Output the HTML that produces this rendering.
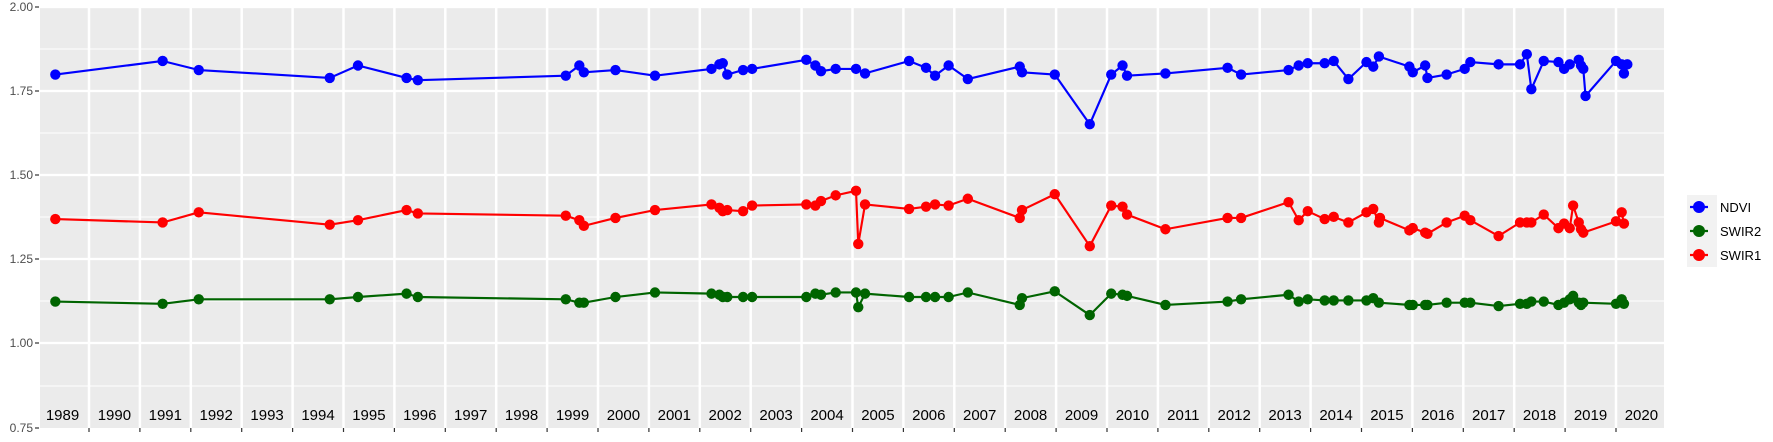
<!DOCTYPE html>
<html><head><meta charset="utf-8"><style>
html,body{margin:0;padding:0;background:#fff;}
svg{display:block;font-family:"Liberation Sans",sans-serif;}
</style></head><body>
<svg width="1773" height="442" viewBox="0 0 1773 442">
<rect x="40" y="6" width="1624" height="422" fill="#ebebeb"/>
<g stroke="#fff" stroke-width="1">
<line x1="40" x2="1664" y1="49" y2="49"/><line x1="40" x2="1664" y1="133" y2="133"/>
<line x1="40" x2="1664" y1="217" y2="217"/><line x1="40" x2="1664" y1="301" y2="301"/>
<line x1="40" x2="1664" y1="386" y2="386"/>
</g>
<g stroke="#fff" stroke-width="2.2">
<line x1="40" x2="1664" y1="7" y2="7"/><line x1="40" x2="1664" y1="91" y2="91"/>
<line x1="40" x2="1664" y1="175" y2="175"/><line x1="40" x2="1664" y1="259" y2="259"/>
<line x1="40" x2="1664" y1="343" y2="343"/>
</g>
<g id="vl" stroke="#fff" stroke-width="2.5"></g>
<g id="tk" stroke="#333" stroke-width="1.2"></g>
<g id="yl" font-size="15" fill="#000" text-anchor="middle"></g>
<g font-size="12" fill="#4d4d4d" text-anchor="end">
<text x="33" y="11">2.00</text><text x="33" y="95">1.75</text><text x="33" y="179">1.50</text>
<text x="33" y="263">1.25</text><text x="33" y="347">1.00</text><text x="33" y="432">0.75</text>
</g>
<g stroke="#333" stroke-width="1.2">
<line x1="35" x2="39" y1="7" y2="7"/><line x1="35" x2="39" y1="91" y2="91"/><line x1="35" x2="39" y1="175" y2="175"/>
<line x1="35" x2="39" y1="259" y2="259"/><line x1="35" x2="39" y1="343" y2="343"/><line x1="35" x2="39" y1="428" y2="428"/>
</g>
<g id="data" transform="scale(1.1293)"></g>
<rect x="1687" y="195" width="30" height="72" fill="#f2f2f2"/>
<line x1="1690" x2="1708" y1="207" y2="207" stroke="#00f" stroke-width="2.2"/><circle cx="1699" cy="207" r="6" fill="#00f"/>
<line x1="1690" x2="1708" y1="231" y2="231" stroke="#006400" stroke-width="2.2"/><circle cx="1699" cy="231" r="6" fill="#006400"/>
<line x1="1690" x2="1708" y1="255" y2="255" stroke="#f00" stroke-width="2.2"/><circle cx="1699" cy="255" r="6" fill="#f00"/>
<g font-size="13" fill="#000"><text x="1720" y="212">NDVI</text><text x="1720" y="236">SWIR2</text><text x="1720" y="260">SWIR1</text></g>
</svg>
<script>
const NS="http://www.w3.org/2000/svg";
function el(p,t,a){const e=document.createElementNS(NS,t);for(const k in a)e.setAttribute(k,a[k]);p.appendChild(e);return e;}
const vl=document.getElementById('vl'),tk=document.getElementById('tk'),yl=document.getElementById('yl');
for(let y=1990;y<=2020;y++){const x=89+(y-1990)*50.9;el(vl,'line',{x1:x,x2:x,y1:6,y2:428});el(tk,'line',{x1:x,x2:x,y1:428,y2:432});}
for(let y=1989;y<=2020;y++){const x=89+(y-1990)*50.9+25.4-(y==1989?1:0);const t=el(yl,'text',{x:x,y:420});t.textContent=y;}
const N=[[49,66],[144,54],[176,62],[292,69],[317,58],[360,69],[370,71],[501,67],[513,58],[517,64],[545,62],[580,67],[630,61],[637,57],[640,56],[644,66],[658,62],[666,61],[714,53],[722,58],[727,63],[740,61],[758,61],[766,65],[805,54],[820,60],[828,67],[840,58],[857,70],[903,59],[905,64],[934,66],[965,110],[984,66],[994,58],[998,67],[1032,65],[1087,60],[1099,66],[1141,62],[1150,58],[1158,56],[1173,56],[1181,54],[1194,70],[1210,55],[1216,59],[1221,50],[1248,59],[1251,64],[1262,58],[1264,69],[1281,66],[1297,61],[1302,55],[1327,57],[1346,57],[1352,48],[1356,79],[1367,54],[1380,55],[1385,61],[1390,57],[1398,53],[1400,58],[1402,61],[1404,85],[1431,54],[1436,57],[1438,65],[1441,57]];
const R=[[49,194],[144,197],[176,188],[292,199],[317,195],[360,186],[370,189],[501,191],[513,195],[517,200],[545,193],[580,186],[630,181],[637,184],[640,187],[644,186],[658,187],[666,182],[714,181],[722,182],[727,178],[740,173],[758,169],[760,216],[766,181],[805,185],[820,183],[828,181],[840,182],[857,176],[903,193],[905,186],[934,172],[965,218],[984,182],[994,183],[998,190],[1032,203],[1087,193],[1099,193],[1141,179],[1150,195],[1158,187],[1173,194],[1181,192],[1194,197],[1210,188],[1216,185],[1221,197],[1222,193],[1248,204],[1251,202],[1262,206],[1264,207],[1281,197],[1297,191],[1302,195],[1327,209],[1346,197],[1352,197],[1356,197],[1367,190],[1380,202],[1385,198],[1390,202],[1393,182],[1398,197],[1400,203],[1402,206],[1431,196],[1436,188],[1438,198]];
const G=[[49,267],[144,269],[176,265],[292,265],[317,263],[360,260],[370,263],[501,265],[513,268],[517,268],[545,263],[580,259],[630,260],[637,261],[640,263],[644,263],[658,263],[666,263],[714,263],[722,260],[727,261],[740,259],[758,259],[760,272],[766,260],[805,263],[820,263],[828,263],[840,263],[857,259],[903,270],[905,264],[934,258],[965,279],[984,260],[994,261],[998,262],[1032,270],[1087,267],[1099,265],[1141,261],[1150,267],[1158,265],[1173,266],[1181,266],[1194,266],[1210,266],[1216,264],[1221,268],[1248,270],[1251,270],[1262,270],[1264,270],[1281,268],[1297,268],[1302,268],[1327,271],[1346,269],[1352,269],[1356,267],[1367,267],[1380,270],[1385,268],[1390,265],[1393,262],[1398,268],[1400,270],[1402,268],[1431,269],[1436,265],[1438,269]];
const d=document.getElementById('data');
function series(P,c){el(d,'polyline',{points:P.map(p=>p.join(',')).join(' '),fill:'none',stroke:c,'stroke-width':1.9,'stroke-linejoin':'round'});P.forEach(p=>el(d,'circle',{cx:p[0],cy:p[1],r:4.6,fill:c}));}
series(G,'#006400');series(R,'#f00');series(N,'#00f');
</script>
</body></html>
